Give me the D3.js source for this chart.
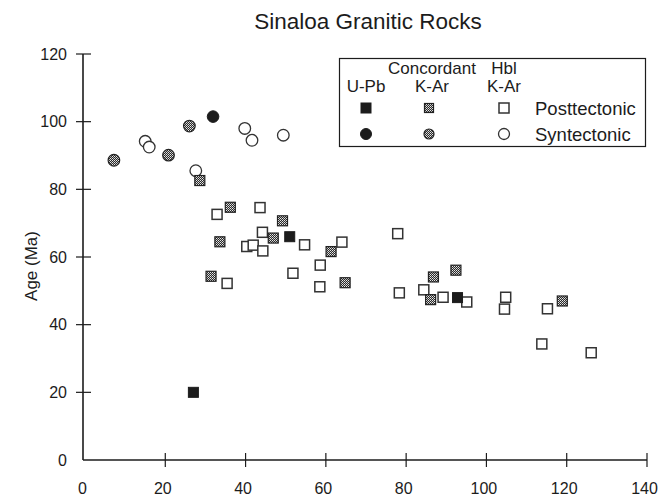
<!DOCTYPE html>
<html>
<head>
<meta charset="utf-8">
<script src="https://cdn.jsdelivr.net/npm/d3@7"></script>
<style>
  html, body { margin: 0; padding: 0; background: #fff; }
  svg { display: block; font-family: "Liberation Sans", Arial, Helvetica, sans-serif; }
</style>
</head>
<body>
<svg id="chart" width="662" height="498"></svg>
<script>
// Sample ages (Ma) against distance; each pair is [x, age]
const upbPost  = [[27.0, 20.0], [51.0, 66.0], [92.8, 48.0]];
const upbSyn   = [[31.9, 101.5]];
const kArPost  = [[28.6, 82.6], [36.2, 74.7], [49.2, 70.7], [46.9, 65.6], [33.6, 64.5],
                  [61.3, 61.6], [31.4, 54.3], [64.8, 52.4], [86.8, 54.1], [92.4, 56.1],
                  [86.1, 47.4], [118.9, 47.0]];
const kArSyn   = [[7.2, 88.6], [20.8, 90.1], [26.0, 98.7]];
const hblPost  = [[32.9, 72.6], [43.6, 74.6], [44.2, 67.3], [54.7, 63.6], [64.0, 64.4],
                  [40.3, 63.1], [41.9, 63.5], [44.3, 61.8], [58.6, 57.6], [35.4, 52.2],
                  [51.8, 55.2], [58.5, 51.2], [77.9, 66.9], [78.3, 49.4], [84.4, 50.3],
                  [89.2, 48.1], [95.1, 46.7], [104.8, 48.1], [104.5, 44.6], [115.2, 44.7],
                  [113.8, 34.3], [126.1, 31.7]];
const hblSyn   = [[15.0, 94.2], [16.0, 92.5], [27.6, 85.5], [39.8, 98.0], [41.6, 94.5], [49.4, 96.0]];

const xTicks = [0, 20, 40, 60, 80, 100, 120, 140];
const yTicks = [0, 20, 40, 60, 80, 100, 120];
const methodHeads = [["U-Pb"], ["Concordant", "K-Ar"], ["Hbl", "K-Ar"]];
const groupNames = ["Posttectonic", "Syntectonic"];

const ink = "#1c1c1c";
const svg = d3.select("#chart");

const x = d3.scaleLinear().domain([0, 140]).range([85, 647]);
const y = d3.scaleLinear().domain([0, 120]).range([460, 54]);
const axisX0 = 83;

// checker fill used for the concordant K-Ar symbols
const defs = svg.append("defs");
const pat = defs.append("pattern").attr("id", "checker")
  .attr("patternUnits", "userSpaceOnUse").attr("width", 2).attr("height", 2);
pat.append("rect").attr("width", 2).attr("height", 2).attr("fill", "#2a2a2a");
pat.append("rect").attr("width", 1).attr("height", 1).attr("fill", "#e8e8e8");
pat.append("rect").attr("x", 1).attr("y", 1).attr("width", 1).attr("height", 1).attr("fill", "#bbb");

// title
svg.append("text").attr("x", 368).attr("y", 29).attr("text-anchor", "middle")
  .attr("font-size", 22.5).attr("fill", ink).text("Sinaloa Granitic Rocks");

// axes lines
svg.append("line").attr("x1", axisX0).attr("x2", axisX0).attr("y1", y(120)).attr("y2", y(0))
  .attr("stroke", ink).attr("stroke-width", 1.6);
svg.append("line").attr("x1", axisX0).attr("x2", x(140)).attr("y1", y(0)).attr("y2", y(0))
  .attr("stroke", ink).attr("stroke-width", 1.6);

// y ticks (crossing the axis)
const yAxis = svg.append("g");
yAxis.selectAll("line").data(yTicks.filter(d => d > 0)).join("line")
  .attr("x1", axisX0 - 7).attr("x2", axisX0 + 8)
  .attr("y1", d => y(d)).attr("y2", d => y(d))
  .attr("stroke", ink).attr("stroke-width", 1.2);
yAxis.selectAll("text").data(yTicks).join("text")
  .attr("x", 67).attr("y", d => y(d)).attr("dy", "0.36em")
  .attr("text-anchor", "end").attr("font-size", 16).attr("fill", ink).text(d => d);

// x ticks
const xAxis = svg.append("g");
xAxis.selectAll("line").data(xTicks.filter(d => d > 0)).join("line")
  .attr("x1", d => x(d)).attr("x2", d => x(d))
  .attr("y1", y(0) - 7).attr("y2", y(0) + 7)
  .attr("stroke", ink).attr("stroke-width", 1.2);
xAxis.selectAll("text").data(xTicks).join("text")
  .attr("x", d => x(d) - 2.5).attr("y", 494)
  .attr("text-anchor", "middle").attr("font-size", 16).attr("fill", ink).text(d => d);

// y axis title
svg.append("text").attr("transform", "translate(37,266) rotate(-90)")
  .attr("text-anchor", "middle").attr("font-size", 17).attr("fill", ink).text("Age (Ma)");

// symbol drawing helpers
function square(g, cx, cy, kind, s) {
  const r = g.append("rect").attr("x", cx - s / 2).attr("y", cy - s / 2)
    .attr("width", s).attr("height", s);
  if (kind === "solid") r.attr("fill", ink).attr("stroke", ink).attr("stroke-width", 1);
  else if (kind === "checker") r.attr("fill", "url(#checker)").attr("stroke", "#222").attr("stroke-width", 1.2);
  else r.attr("fill", "#fff").attr("stroke", "#333").attr("stroke-width", 1.5);
}
function circle(g, cx, cy, kind, rad) {
  const c = g.append("circle").attr("cx", cx).attr("cy", cy).attr("r", rad);
  if (kind === "solid") c.attr("fill", ink).attr("stroke", ink).attr("stroke-width", 1);
  else if (kind === "checker") c.attr("fill", "url(#checker)").attr("stroke", "#222").attr("stroke-width", 1.2);
  else c.attr("fill", "#fff").attr("stroke", "#333").attr("stroke-width", 1.3);
}

const plot = svg.append("g");
hblSyn.forEach(d => circle(plot, x(d[0]), y(d[1]), "open", 5.8));
kArSyn.forEach(d => circle(plot, x(d[0]), y(d[1]), "checker", 5.8));
upbSyn.forEach(d => circle(plot, x(d[0]), y(d[1]), "solid", 5.8));
hblPost.forEach(d => square(plot, x(d[0]), y(d[1]), "open", 10));
kArPost.forEach(d => square(plot, x(d[0]), y(d[1]), "checker", 10));
upbPost.forEach(d => square(plot, x(d[0]), y(d[1]), "solid", 10));

// legend
const lg = svg.append("g");
lg.append("rect").attr("x", 339.5).attr("y", 58.5).attr("width", 306).attr("height", 88)
  .attr("fill", "#fff").attr("stroke", ink).attr("stroke-width", 1.2);
const colX = [366, 432, 504];
const kinds = ["solid", "checker", "open"];
methodHeads.forEach((lines, i) => {
  lines.forEach((t, j) => {
    const yy = lines.length === 1 ? 92 : (j === 0 ? 74 : 92);
    lg.append("text").attr("x", colX[i]).attr("y", yy).attr("text-anchor", "middle")
      .attr("font-size", 17).attr("fill", ink).text(t);
  });
});
kinds.forEach((k, i) => {
  square(lg, colX[i] + (i === 1 ? -3 : 0), 108, k, k === "checker" ? 9 : 10);
  circle(lg, colX[i] + (i === 1 ? -3 : 0), 134, k, k === "checker" ? 5 : 5.5);
});
groupNames.forEach((t, i) => {
  lg.append("text").attr("x", 535).attr("y", 115 + i * 26)
    .attr("font-size", 18.5).attr("fill", ink).text(t);
});
</script>
</body>
</html>
